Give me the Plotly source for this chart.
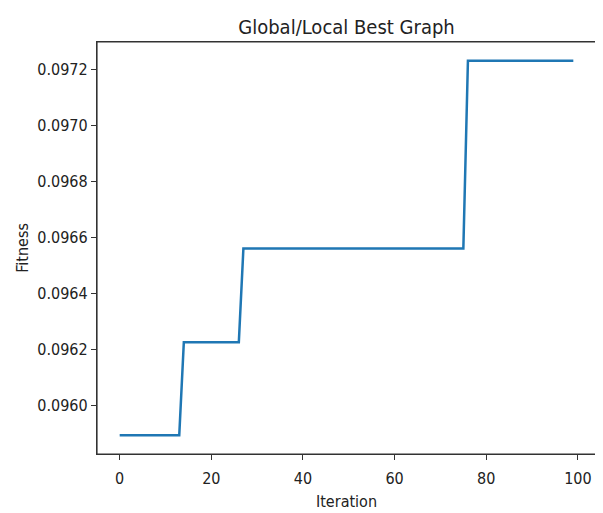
import plotly.graph_objects as go

# Global best fitness per iteration
iterations = list(range(100))
fitness = ([0.095892] * 14 +   # iterations 0-13
           [0.096225] * 13 +   # iterations 14-26
           [0.096560] * 49 +   # iterations 27-75
           [0.097232] * 24)    # iterations 76-99

x_ticks = [0, 20, 40, 60, 80, 100]
y_ticks = [0.0960, 0.0962, 0.0964, 0.0966, 0.0968, 0.0970, 0.0972]
y_tick_labels = ["0.0960", "0.0962", "0.0964", "0.0966", "0.0968", "0.0970", "0.0972"]

FONT = "DejaVu Sans Condensed, DejaVu Sans, sans-serif"

fig = go.Figure()
fig.add_trace(go.Scatter(
    x=iterations, y=fitness, mode="lines",
    line=dict(color="#1f77b4", width=2.5),
    showlegend=False,
))

# the page body has an 8px margin, so the figure is offset by (8, 8)
fig.update_layout(
    width=603, height=513,
    margin=dict(l=89, r=15, t=34, b=67, autoexpand=False),
    paper_bgcolor="white", plot_bgcolor="white",
    font=dict(family=FONT, size=16, color="#222222"),
    title=dict(text="Global/Local Best Graph", x=0.5, xref="paper",
               y=1 - 19 / 513, yref="container", yanchor="middle",
               xanchor="center", font=dict(size=20, color="#222222")),
    shapes=[dict(type="rect", xref="paper", yref="paper",
                 x0=0, x1=1, y0=0, y1=1,
                 line=dict(color="#333333", width=1.2), layer="above")],
)

axis_common = dict(
    showline=True, linecolor="#333333", linewidth=1.2, mirror=True,
    showgrid=False, zeroline=False, automargin=False,
    ticks="outside", ticklen=5, tickwidth=1.2, tickcolor="#333333",
)

fig.update_xaxes(
    range=[-4.95, 103.95], tickvals=x_ticks, ticklabelstandoff=5,
    title=dict(text="Iteration", standoff=8, font=dict(size=16)),
    **axis_common,
)
fig.update_yaxes(
    range=[0.095825, 0.097299], tickvals=y_ticks, ticktext=y_tick_labels,
    title=dict(text="Fitness", standoff=4, font=dict(size=16)),
    **axis_common,
)

fig.write_html("out.html")
